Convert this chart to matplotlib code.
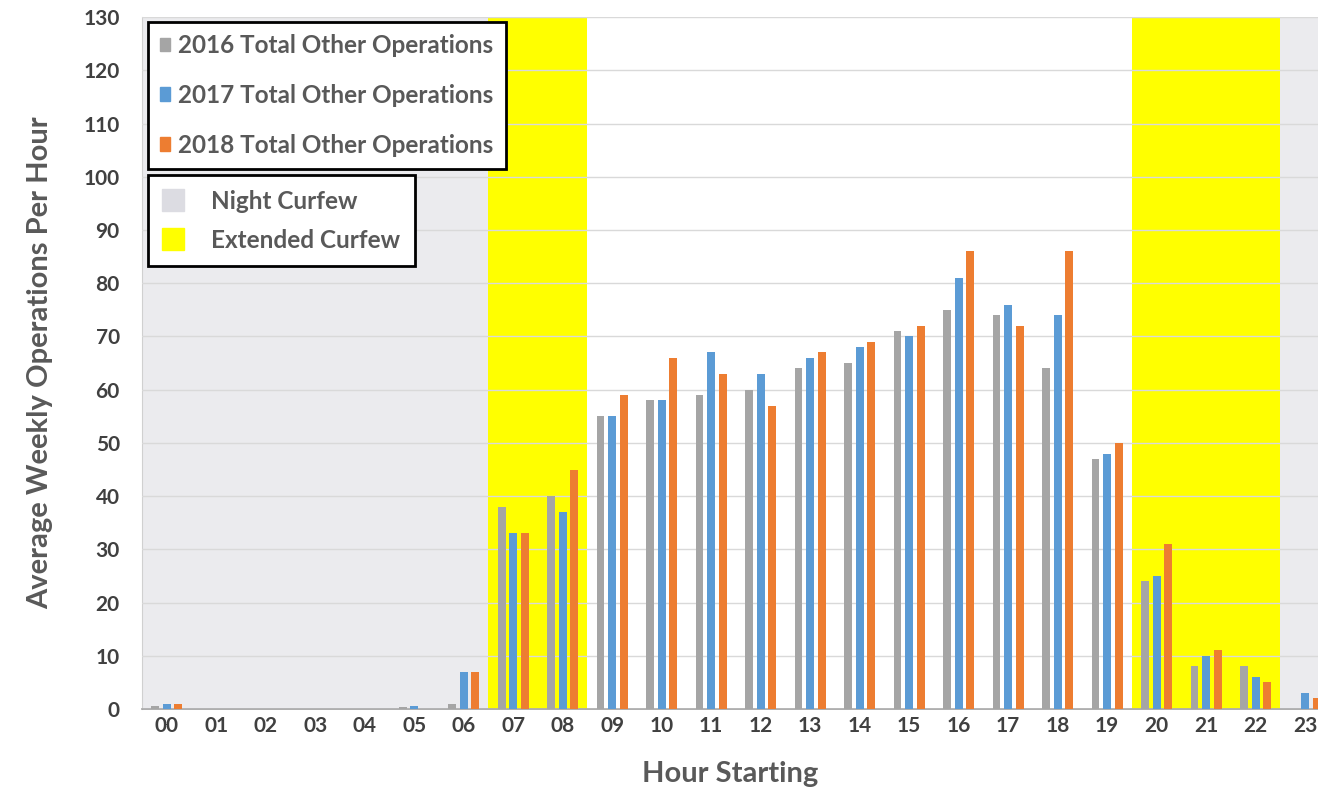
import matplotlib.pyplot as plt
from matplotlib.patches import Patch
import numpy as np

horas = ['00', '01', '02', '03', '04', '05', '06', '07', '08', '09', '10', '11',
         '12', '13', '14', '15', '16', '17', '18', '19', '20', '21', '22', '23']
ops_2016 = [0.5, 0, 0, 0, 0, 0.3, 1, 38, 40, 55, 58, 59, 60, 64, 65, 71, 75, 74, 64, 47, 24, 8, 8, 0]
ops_2017 = [1, 0, 0, 0, 0, 0.5, 7, 33, 37, 55, 58, 67, 63, 66, 68, 70, 81, 76, 74, 48, 25, 10, 6, 3]
ops_2018 = [1, 0, 0, 0, 0, 0, 7, 33, 45, 59, 66, 63, 57, 67, 69, 72, 86, 72, 86, 50, 31, 11, 5, 2]

# faixas de toque de recolher (inicio, fim) em horas
noturno = [(-0.5, 6.5), (22.5, 23.5)]
estendido = [(6.5, 8.5), (19.5, 22.5)]

cinza = '#A5A5A5'
azul = '#5B9BD5'
laranja = '#ED7D31'
cor_noite = '#EBEBEE'
amarelo = '#FFFF00'
texto = '#595959'

plt.rcParams['font.family'] = ['Lato', 'DejaVu Sans']

fig = plt.figure(figsize=(13.18, 7.99), dpi=100)
ax = fig.add_axes([0.1077, 0.1126, 0.8923, 0.866])

for a, b in noturno:
    ax.axvspan(a, b, color=cor_noite, zorder=1.5, lw=0)
for a, b in estendido:
    ax.axvspan(a, b, color=amarelo, zorder=0, lw=0)

x = np.arange(len(horas))
largura = 0.16
passo = 0.235
ax.bar(x - passo, ops_2016, largura, color=cinza, zorder=3)
ax.bar(x, ops_2017, largura, color=azul, zorder=3)
ax.bar(x + passo, ops_2018, largura, color=laranja, zorder=3)

ax.set_xlim(-0.5, 23.26)
ax.set_ylim(0, 130)
ax.set_yticks(range(0, 131, 10))
ax.set_xticks(x)
ax.set_xticklabels(horas)
ax.yaxis.grid(True, color='#D9D9D9', lw=1, zorder=1)
ax.set_axisbelow(False)
for s in ['top', 'right']:
    ax.spines[s].set_visible(False)
ax.spines['left'].set_color('#D0D0D0')
ax.spines['bottom'].set_color('#A0A0A0')
ax.spines['bottom'].set_linewidth(1.2)
ax.tick_params(length=0, labelsize=15, colors='#404040')
ax.tick_params(axis='y', pad=16)
ax.tick_params(axis='x', pad=5)
for t in ax.get_xticklabels() + ax.get_yticklabels():
    t.set_fontweight('bold')

ax.set_ylabel('Average Weekly Operations Per Hour', fontsize=21, fontweight='bold',
              color=texto, labelpad=22)
ax.set_xlabel('Hour Starting', fontsize=21, fontweight='bold', color=texto, labelpad=18)

h1 = [Patch(color=cinza), Patch(color=azul), Patch(color=laranja)]
l1 = ['2016 Total Other Operations', '2017 Total Other Operations', '2018 Total Other Operations']
leg1 = ax.legend(h1, l1, loc='upper left', bbox_to_anchor=(0.005, 0.993),
                 prop={'weight': 'bold', 'size': 17.5}, handlelength=0.4, handleheight=0.5,
                 handletextpad=0.35, labelspacing=1.1, fancybox=False, framealpha=1,
                 edgecolor='black', borderpad=0.5, borderaxespad=0)
leg1.get_frame().set_linewidth(2)
for t in leg1.get_texts():
    t.set_color(texto)
ax.add_artist(leg1)

h2 = [Patch(color='#DCDCE2'), Patch(color=amarelo)]
l2 = ['Night Curfew', 'Extended Curfew']
leg2 = ax.legend(h2, l2, loc='upper left', bbox_to_anchor=(0.005, 0.772),
                 prop={'weight': 'bold', 'size': 17.5}, handlelength=0.9, handleheight=1.0,
                 handletextpad=1.1, labelspacing=0.65, fancybox=False, framealpha=1,
                 edgecolor='black', borderpad=0.6, borderaxespad=0)
leg2.get_frame().set_linewidth(2)
for t in leg2.get_texts():
    t.set_color(texto)
leg1.set_zorder(5)
leg2.set_zorder(5)

fig.savefig('out.png', dpi=100)
